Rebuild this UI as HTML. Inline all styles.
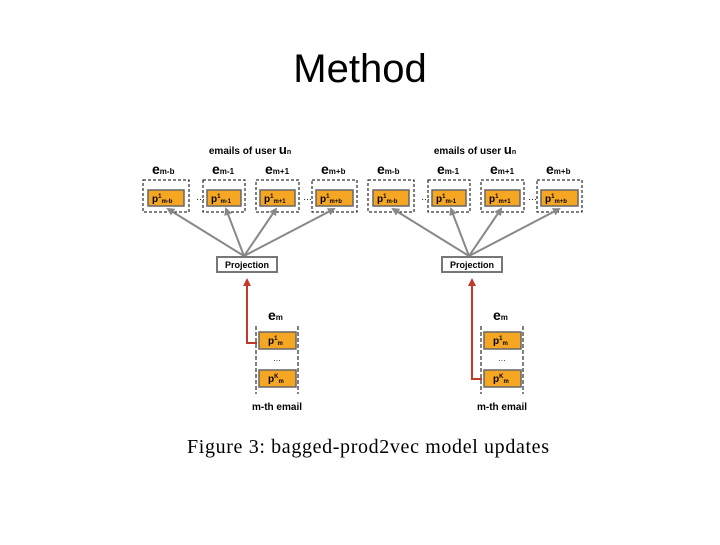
<!DOCTYPE html>
<html><head><meta charset="utf-8"><style>
body{margin:0;background:#fff;width:720px;height:540px;overflow:hidden;font-family:"Liberation Sans",sans-serif}
</style></head><body>
<svg width="720" height="540" xmlns="http://www.w3.org/2000/svg" font-family="Liberation Sans, sans-serif">
<defs>
<marker id="ag" markerWidth="8" markerHeight="8" refX="6" refY="4" orient="auto" markerUnits="userSpaceOnUse"><path d="M0,0 L8,4 L0,8 z" fill="#888"/></marker>
<marker id="ar" markerWidth="8" markerHeight="8" refX="6" refY="4" orient="auto" markerUnits="userSpaceOnUse"><path d="M0,0 L8,4 L0,8 z" fill="#c0392b"/></marker>
</defs>
<text x="360" y="82" font-size="40" text-anchor="middle" fill="#000">Method</text>
<g id="panel">
<text x="250" y="154" font-size="10" font-weight="bold" text-anchor="middle">emails of user <tspan font-size="13">u</tspan><tspan font-size="7">n</tspan></text>
<g font-weight="bold" font-size="14">
<text x="152" y="174">e<tspan font-size="8">m-b</tspan></text>
<text x="212" y="174">e<tspan font-size="8">m-1</tspan></text>
<text x="265" y="174">e<tspan font-size="8">m+1</tspan></text>
<text x="321" y="174">e<tspan font-size="8">m+b</tspan></text>
</g>
<g fill="none" stroke="#000" stroke-width="1" stroke-dasharray="3,2">
<rect x="143" y="180" width="46" height="32"/>
<rect x="203" y="180" width="42" height="32"/>
<rect x="256" y="180" width="43" height="32"/>
<rect x="312" y="180" width="45" height="32"/>
</g>
<text x="196" y="200" font-size="9">…</text>
<text x="303" y="200" font-size="9">…</text>
<g fill="#f5a623" stroke="#666" stroke-width="1.5">
<rect x="148" y="190" width="36" height="16"/>
<rect x="207" y="190" width="34" height="16"/>
<rect x="260" y="190" width="35" height="16"/>
<rect x="316" y="190" width="37" height="16"/>
</g>
<g font-size="10" font-weight="bold">
<text x="152" y="202">p<tspan font-size="6" dy="-4">1</tspan><tspan font-size="6" dy="5">m-b</tspan></text>
<text x="211" y="202">p<tspan font-size="6" dy="-4">1</tspan><tspan font-size="6" dy="5">m-1</tspan></text>
<text x="264" y="202">p<tspan font-size="6" dy="-4">1</tspan><tspan font-size="6" dy="5">m+1</tspan></text>
<text x="320" y="202">p<tspan font-size="6" dy="-4">1</tspan><tspan font-size="6" dy="5">m+b</tspan></text>
</g>
<g stroke="#888" stroke-width="2" marker-end="url(#ag)">
<line x1="244" y1="256" x2="168" y2="209"/>
<line x1="244" y1="256" x2="226" y2="209"/>
<line x1="244" y1="256" x2="276" y2="209"/>
<line x1="244" y1="256" x2="334" y2="209"/>
</g>
<rect x="217" y="257" width="60" height="15" fill="#fff" stroke="#777" stroke-width="2"/>
<text x="247" y="268" font-size="9" font-weight="bold" text-anchor="middle">Projection</text>
<text x="268" y="320" font-size="14" font-weight="bold">e<tspan font-size="8">m</tspan></text>
<g stroke="#000" stroke-dasharray="4,2"><line x1="256" y1="326" x2="256" y2="394"/><line x1="298" y1="326" x2="298" y2="394"/></g>
<g fill="#f5a623" stroke="#666" stroke-width="1.5">
<rect x="259" y="332" width="37" height="17"/>
<rect x="259" y="370" width="37" height="17"/>
</g>
<g font-size="10" font-weight="bold">
<text x="268" y="344">p<tspan font-size="6" dy="-4">1</tspan><tspan font-size="6" dy="5">m</tspan></text>
<text x="268" y="382">p<tspan font-size="6" dy="-4">K</tspan><tspan font-size="6" dy="5">m</tspan></text>
</g>
<text x="277" y="361" font-size="8" text-anchor="middle">…</text>
<text x="277" y="410" font-size="10" font-weight="bold" text-anchor="middle">m-th email</text>
</g>
<g transform="translate(225,0)">
<use href="#panel"/>
</g>
<polyline points="257,343 247,343 247,280" fill="none" stroke="#c0392b" stroke-width="2" marker-end="url(#ar)"/>
<polyline points="482,379 472,379 472,280" fill="none" stroke="#c0392b" stroke-width="2" marker-end="url(#ar)"/>
<text x="187" y="453" font-size="20" font-family="Liberation Serif, serif" textLength="362" lengthAdjust="spacing">Figure 3:  bagged-prod2vec model updates</text>
</svg>
</body></html>
